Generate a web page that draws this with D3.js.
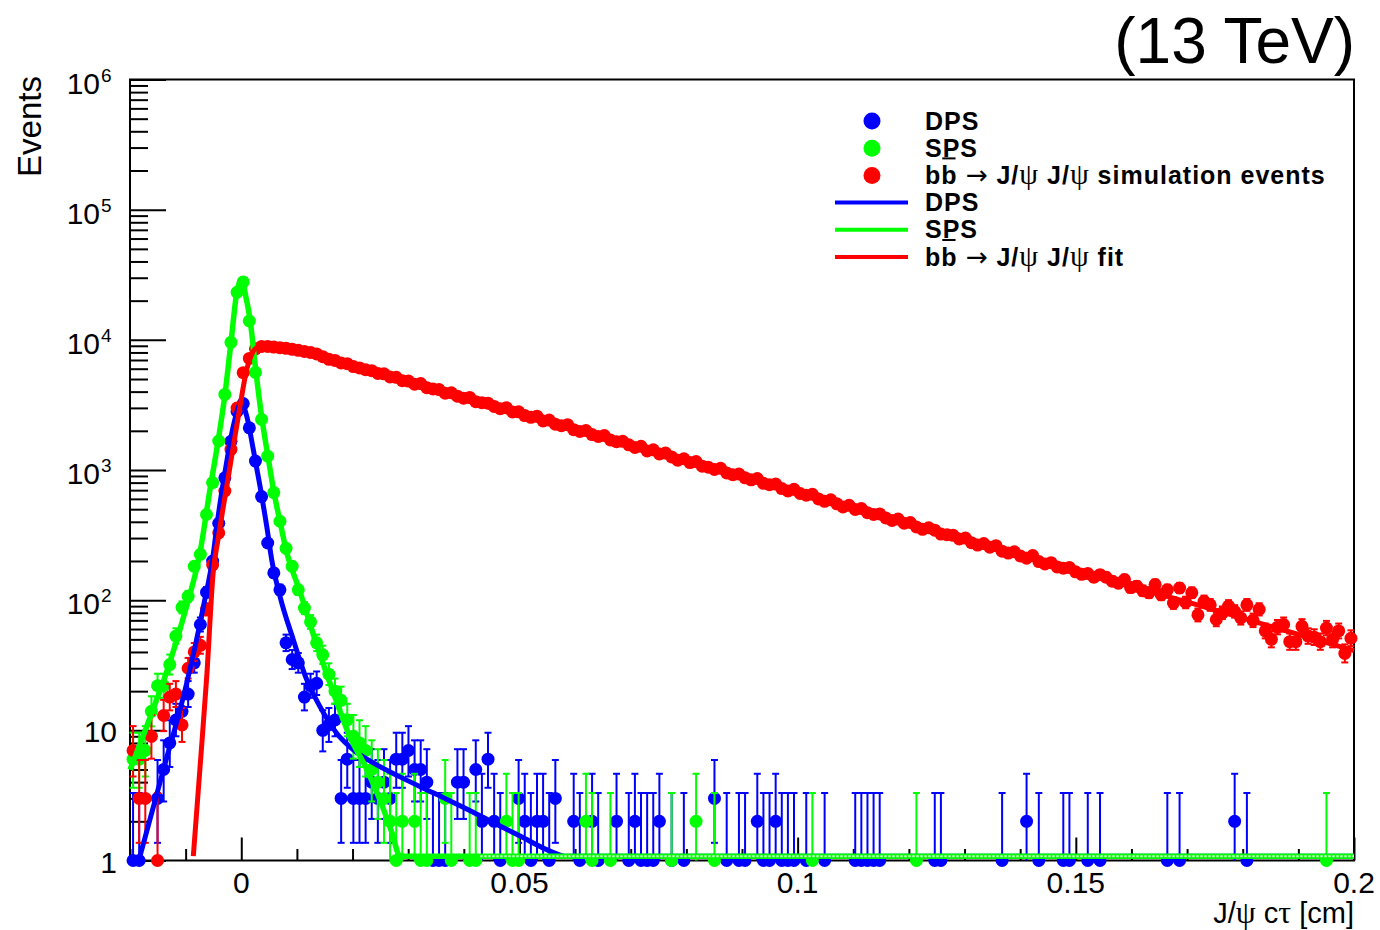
<!DOCTYPE html>
<html>
<head>
<meta charset="utf-8">
<script src="https://cdn.jsdelivr.net/npm/d3@7"></script>
<style>
  body { margin: 0; background: #fff; }
  svg { display: block; font-family: "Liberation Sans", Arial, Helvetica, sans-serif; }
  text { white-space: pre; }
</style>
</head>
<body>
<svg id="chart" width="1380" height="930"></svg>
<script>
// Binning of the J/psi c-tau histograms (200 bins from -0.02 to 0.2 cm)
const BIN_LO = -0.02, BIN_W = 0.0011, N_BINS = 200;

// DPS events per bin
const dpsCounts = [
  1, 1, 0, 0, 3, 5, 8, 12, 14, 19, 33, 65, 115, 200, 390, 870, 1660, 2820, 3240, 2110,
  1170, 625, 275, 162, 120, 47, 35, 33, 18, 22, 23, 10, 11, 12, 3, 6, 3, 3, 3, 4,
  3, 4, 3, 6, 6, 7, 5, 5, 4, 1, 1, 1, 0, 4, 4, 0, 5, 2, 6, 2,
  1, 0, 0, 3, 2, 1, 2, 2, 1, 3, 0, 0, 2, 1, 0, 2, 1, 0, 0, 2,
  0, 1, 2, 1, 1, 1, 2, 0, 1, 0, 1, 0, 0, 0, 0, 3, 0, 1, 0, 1,
  1, 0, 2, 1, 1, 2, 1, 1, 1, 0, 1, 0, 0, 1, 0, 0, 0, 0, 1, 1,
  1, 1, 1, 0, 0, 0, 0, 0, 0, 0, 0, 1, 1, 0, 0, 0, 0, 0, 0, 0,
  0, 0, 1, 0, 0, 0, 2, 0, 1, 0, 0, 0, 1, 1, 0, 0, 1, 0, 1, 0,
  0, 0, 0, 0, 0, 0, 0, 0, 0, 1, 0, 1, 0, 0, 0, 0, 0, 0, 0, 0,
  2, 0, 1, 0, 0, 0, 0, 0, 0, 0, 0, 0, 0, 0, 0, 0, 0, 0, 0, 0
];

// SPS events per bin
const spsCounts = [
  6, 6, 7, 14, 22, 22, 32, 53, 88, 107, 182, 225, 455, 800, 1670, 3810, 9570, 23200, 27850, 13950,
  5620, 2445, 1277, 671, 404, 250, 182, 120, 87, 68, 47, 38, 27, 20, 17, 12, 9, 8, 7, 5,
  4, 3, 2, 1, 2, 0, 2, 1, 1, 0, 0, 3, 1, 0, 0, 1, 1, 0, 0, 0,
  0, 2, 1, 1, 0, 0, 0, 0, 0, 0, 0, 0, 0, 0, 2, 1, 0, 0, 1, 0,
  0, 0, 0, 0, 0, 0, 0, 0, 1, 0, 0, 0, 2, 0, 0, 1, 0, 0, 0, 0,
  0, 0, 0, 0, 0, 0, 0, 0, 0, 0, 0, 1, 0, 0, 0, 0, 0, 0, 0, 0,
  0, 0, 0, 0, 0, 0, 0, 0, 1, 0, 0, 0, 0, 0, 0, 0, 0, 0, 0, 0,
  0, 0, 0, 0, 0, 0, 0, 0, 0, 0, 0, 0, 0, 0, 0, 0, 0, 0, 0, 0,
  0, 0, 0, 0, 0, 0, 0, 0, 0, 0, 0, 0, 0, 0, 0, 0, 0, 0, 0, 0,
  0, 0, 0, 0, 0, 0, 0, 0, 0, 0, 0, 0, 0, 0, 0, 1, 0, 0, 0, 0
];

// bb -> J/psi J/psi simulation events per bin
const bbCounts = [
  7, 3, 3, 9, 1, 13, 18, 19, 11, 30, 40, 45, 85, 187, 329, 690, 1440, 2990, 5590, 7200,
  8530, 8900, 8900, 8800, 8700, 8600, 8450, 8300, 8150, 8000, 7800, 7420, 7080, 6950, 6640, 6560, 6230, 6080, 5890, 5800,
  5520, 5480, 5180, 5150, 4850, 4820, 4560, 4620, 4290, 4190, 4150, 3890, 3920, 3690, 3560, 3610, 3350, 3290, 3260, 3080,
  2960, 3010, 2790, 2800, 2620, 2540, 2590, 2380, 2420, 2250, 2190, 2230, 2040, 1980, 2010, 1870, 1810, 1840, 1700, 1650,
  1660, 1560, 1490, 1520, 1400, 1430, 1330, 1350, 1260, 1190, 1220, 1140, 1160, 1070, 1050, 1010, 1030, 950, 920, 930,
  870, 840, 860, 790, 770, 780, 720, 690, 710, 660, 640, 650, 600, 575, 590, 550, 520, 535, 498, 505,
  470, 455, 460, 428, 410, 420, 390, 395, 365, 350, 360, 345, 322, 318, 315, 295, 300, 276, 265, 272,
  255, 262, 238, 230, 235, 218, 210, 220, 198, 190, 194, 180, 176, 178, 165, 158, 160, 150, 157, 150,
  140, 135, 144, 125, 128, 118, 114, 132, 110, 120, 95, 124, 96, 114, 77, 98, 92, 71, 80, 90,
  82, 73, 92, 70, 85, 58, 50, 62, 65, 48, 48, 63, 53, 52, 48, 61, 50, 58, 39, 51
];

// Fit curves (x in cm, y in events)
const dpsFitX = [-0.0182, -0.0140, -0.0098, -0.0068, -0.0050, -0.0044, -0.00275, -0.00143, 0.0000, 0.00098,
  0.00216, 0.00337, 0.00457, 0.00547, 0.00696, 0.00935, 0.01176, 0.01415, 0.01715, 0.02014,
  0.02373, 0.02853, 0.03451, 0.04052, 0.0465, 0.0501, 0.0555, 0.0582, 0.062, 0.2];
const dpsFitY = [1.0, 4.97, 23.1, 89.6, 231, 370, 1070, 2173, 3288, 2594,
  1438, 750, 370, 205, 107, 49.7, 24.5, 15.2, 9.5, 7.08,
  5.62, 4.39, 3.31, 2.49, 1.84, 1.54, 1.18, 1.04, 0.6, 0.001];

const spsFitX = [-0.02, -0.01641, -0.01281, -0.01011, -0.00742, -0.00562, -0.00418, -0.00293, -0.00185, -0.00077,
  0.00004, 0.00085, 0.00157, 0.00265, 0.00373, 0.0048, 0.00588, 0.00696, 0.00804, 0.01056,
  0.01343, 0.01649, 0.01954, 0.02242, 0.02493, 0.02709, 0.02853, 0.031, 0.2];
const spsFitY = [4.97, 12.5, 33.6, 81.6, 232, 708, 1656, 3810, 9570, 23600,
  29200, 21200, 14380, 5620, 2445, 1270, 671, 402, 245, 116,
  47.1, 19.8, 8.9, 5.15, 2.92, 1.63, 1.0, 0.3, 0.001];

const bbFitX = [-0.00862, -0.00742, -0.00621, -0.00503, -0.00418, -0.00346, -0.00262, -0.00143, -0.00023, 0.00098,
  0.00187, 0.00277, 0.00373, 0.00606, 0.00876, 0.01415, 0.02853, 0.06448, 0.10043, 0.13637, 0.17232, 0.2];
const bbFitY = [1.0, 5.15, 25.8, 166, 292, 455, 747, 1517, 3080, 5930,
  7730, 8750, 9070, 8990, 8600, 7470, 4795, 1778, 659, 245, 90.7, 40.9];

// Axis ticks and labels
const xMajorTicks = [0, 0.05, 0.1, 0.15, 0.2];
const xTickLabels = ['0', '0.05', '0.1', '0.15', '0.2'];
const yMajorTicks = [1, 10, 100, 1e3, 1e4, 1e5, 1e6];
const yTickBase = ['1', '10', '10', '10', '10', '10', '10'];
const yTickExp = ['', '', '2', '3', '4', '5', '6'];

// 68% Poisson (Garwood) intervals for small counts
const POIS_LO = [0, 0.173, 0.708, 1.367, 2.086, 2.840, 3.620, 4.419, 5.232, 6.057, 6.891];
const POIS_HI = [1.841, 3.300, 4.638, 5.918, 7.163, 8.382, 9.584, 10.77, 11.95, 13.11, 14.27];

const BLUE = '#0000ff', GREEN = '#00ff00', RED = '#ff0000';
const SANS = '"Liberation Sans", Arial, Helvetica, sans-serif';
const GREEK = '"Liberation Serif", "DejaVu Serif", serif';
const ARROW = '"DejaVu Sans", sans-serif';

/* ------------------------------------------------------------------ */
/*  Scales                                                             */
/* ------------------------------------------------------------------ */

const frame = { l: 130, r: 1354, t: 79.5, b: 860.5 };
const x = d3.scaleLinear().domain([-0.02, 0.2]).range([frame.l, frame.r]);
const y = d3.scaleLog().domain([1, 1e6]).range([frame.b, frame.t]);
const Y_FLOOR = 1.08; // curves below the axis minimum run along the bottom edge

const svg = d3.select('#chart');
const binCenters = d3.range(N_BINS).map(i => BIN_LO + BIN_W * (i + 0.5));

function poissonBand(n) {
  if (n <= 10) return [POIS_LO[n], POIS_HI[n]];
  const s = Math.sqrt(n + 0.25);
  return [n - s + 0.5, n + s + 0.5];
}

/* ------------------------------------------------------------------ */
/*  Axes and frame                                                     */
/* ------------------------------------------------------------------ */

const yMinor = [];
for (let d = 1; d < 1e6; d *= 10) for (let m = 2; m <= 9; m++) yMinor.push(d * m);
const xMinor = d3.range(-2, 21).map(v => v / 100).filter(v => !xMajorTicks.some(t => Math.abs(t - v) < 1e-9));

function styleAxis(g) {
  g.select('.domain').remove();
  g.selectAll('.tick line').attr('stroke', '#000').attr('stroke-width', 2);
  g.selectAll('.tick text').remove();
}

svg.append('g').attr('transform', `translate(${frame.l},0)`)
  .call(d3.axisLeft(y).tickValues(yMajorTicks).tickSize(-36).tickFormat(''))
  .call(styleAxis);
svg.append('g').attr('transform', `translate(${frame.l},0)`)
  .call(d3.axisLeft(y).tickValues(yMinor).tickSize(-18).tickFormat(''))
  .call(styleAxis);
svg.append('g').attr('transform', `translate(0,${frame.b})`)
  .call(d3.axisBottom(x).tickValues(xMajorTicks).tickSize(-23).tickFormat(''))
  .call(styleAxis);
svg.append('g').attr('transform', `translate(0,${frame.b})`)
  .call(d3.axisBottom(x).tickValues(xMinor).tickSize(-11.5).tickFormat(''))
  .call(styleAxis);

svg.append('rect')
  .attr('x', frame.l).attr('y', frame.t)
  .attr('width', frame.r - frame.l).attr('height', frame.b - frame.t)
  .attr('fill', 'none').attr('stroke', '#000').attr('stroke-width', 2);

// y tick labels (10^n with superscripts)
yMajorTicks.forEach((v, i) => {
  const ty = y(v);
  if (yTickExp[i] === '') {
    svg.append('text').attr('x', 117).attr('y', ty + 12)
      .attr('text-anchor', 'end').attr('font-size', 30).text(yTickBase[i]);
  } else {
    svg.append('text').attr('x', 100).attr('y', ty + 14)
      .attr('text-anchor', 'end').attr('font-size', 30).text(yTickBase[i]);
    svg.append('text').attr('x', 101).attr('y', ty + 2)
      .attr('font-size', 19).text(yTickExp[i]);
  }
});

// x tick labels
xMajorTicks.forEach((v, i) => {
  svg.append('text').attr('x', x(v)).attr('y', 893)
    .attr('text-anchor', 'middle').attr('font-size', 30).text(xTickLabels[i]);
});

// axis titles
svg.append('text')
  .attr('transform', 'translate(41,76) rotate(-90)')
  .attr('text-anchor', 'end').attr('font-size', 33).text('Events');

function richText(sel, parts, bold, greekSize) {
  parts.forEach(([t, kind]) => {
    const ts = sel.append('tspan').text(t);
    if (kind === 'g') {
      ts.attr('font-family', GREEK).attr('font-weight', 'normal').attr('font-size', greekSize);
    } else if (kind === 'a') {
      ts.attr('font-family', ARROW).attr('font-weight', 'normal').attr('font-size', '1.05em');
    } else {
      ts.attr('font-family', SANS).attr('font-weight', bold ? 'bold' : 'normal');
    }
  });
  return sel;
}

richText(svg.append('text').attr('x', 1354).attr('y', 923)
  .attr('text-anchor', 'end').attr('font-size', 29),
  [['J/', 's'], ['ψ', 'g'], [' c', 's'], ['τ', 'g'], [' [cm]', 's']], false, '1.1em');

svg.append('text').attr('x', 1355).attr('y', 63)
  .attr('text-anchor', 'end').attr('font-size', 64).text('(13 TeV)');

/* ------------------------------------------------------------------ */
/*  Data points with error bars                                        */
/* ------------------------------------------------------------------ */

function drawData(counts, color) {
  const pts = counts.map((n, i) => ({ cx: binCenters[i], n })).filter(d => d.n > 0);
  pts.forEach(d => {
    const [lo, hi] = poissonBand(d.n);
    d.yLo = y(Math.max(lo, 1));
    d.yHi = y(hi);
    d.loCap = lo >= 1;
  });
  const g = svg.append('g');
  g.selectAll(null).data(pts).enter().append('line')
    .attr('x1', d => x(d.cx)).attr('x2', d => x(d.cx))
    .attr('y1', d => d.yLo).attr('y2', d => d.yHi)
    .attr('stroke', color).attr('stroke-width', 2);
  g.selectAll(null).data(pts).enter().append('line')
    .attr('x1', d => x(d.cx) - 3.5).attr('x2', d => x(d.cx) + 3.5)
    .attr('y1', d => d.yHi).attr('y2', d => d.yHi)
    .attr('stroke', color).attr('stroke-width', 2);
  g.selectAll(null).data(pts.filter(d => d.loCap)).enter().append('line')
    .attr('x1', d => x(d.cx) - 3.5).attr('x2', d => x(d.cx) + 3.5)
    .attr('y1', d => d.yLo).attr('y2', d => d.yLo)
    .attr('stroke', color).attr('stroke-width', 2);
  g.selectAll(null).data(pts).enter().append('circle')
    .attr('cx', d => x(d.cx)).attr('cy', d => y(d.n))
    .attr('r', 6.5).attr('fill', color);
}

drawData(dpsCounts, BLUE);
drawData(spsCounts, GREEN);
drawData(bbCounts, RED);

/* ------------------------------------------------------------------ */
/*  Fit curves                                                         */
/* ------------------------------------------------------------------ */

const curve = d3.line()
  .x(d => x(d[0]))
  .y(d => y(Math.max(d[1], Y_FLOOR)))
  .curve(d3.curveMonotoneX);

function drawFit(xs, ys, color, width) {
  svg.append('path')
    .datum(xs.map((v, i) => [v, ys[i]]))
    .attr('d', curve)
    .attr('fill', 'none').attr('stroke', color)
    .attr('stroke-width', width).attr('stroke-linejoin', 'round');
}

drawFit(dpsFitX, dpsFitY, BLUE, 5);
drawFit(spsFitX, spsFitY, GREEN, 5.5);

// light dashes along the SPS curve where it lies on the bottom edge
svg.append('line')
  .attr('x1', x(0.043)).attr('x2', x(0.2))
  .attr('y1', y(Y_FLOOR)).attr('y2', y(Y_FLOOR))
  .attr('stroke', '#fff').attr('stroke-width', 2).attr('stroke-dasharray', '2 2');

drawFit(bbFitX, bbFitY, RED, 5);

/* ------------------------------------------------------------------ */
/*  Legend                                                             */
/* ------------------------------------------------------------------ */

const bbLabel = txt => [['bb', 'b'], [' ', 'b'], ['→', 'a'], [' J/', 'b'], ['ψ', 'g'], [' J/', 'b'], ['ψ', 'g'], [txt, 'b']];
const legendItems = [
  { kind: 'marker', color: BLUE, parts: [['DPS', 'b']] },
  { kind: 'marker', color: GREEN, parts: [['SPS', 'b']] },
  { kind: 'marker', color: RED, parts: bbLabel(' simulation events'), bar: true },
  { kind: 'line', color: BLUE, parts: [['DPS', 'b']] },
  { kind: 'line', color: GREEN, parts: [['SPS', 'b']] },
  { kind: 'line', color: RED, parts: bbLabel(' fit'), bar: true }
];

const legend = svg.append('g');
legendItems.forEach((item, i) => {
  const ry = 121 + 27.2 * i;
  if (item.kind === 'marker') {
    legend.append('circle').attr('cx', 872).attr('cy', ry).attr('r', 8.5).attr('fill', item.color);
  } else {
    legend.append('line').attr('x1', 835).attr('x2', 908).attr('y1', ry).attr('y2', ry)
      .attr('stroke', item.color).attr('stroke-width', 4);
  }
  const t = richText(legend.append('text').attr('x', 925).attr('y', ry + 8.5)
    .attr('font-size', 25).attr('letter-spacing', 1), item.parts, true, '1.2em');
  if (item.bar) {
    // overline on the second b (anti-quark)
    const ext = t.node().getExtentOfChar(1);
    legend.append('line')
      .attr('x1', ext.x + 1).attr('x2', ext.x + ext.width - 2)
      .attr('y1', ry - 17).attr('y2', ry - 17)
      .attr('stroke', '#000').attr('stroke-width', 2);
  }
});
</script>
</body>
</html>
